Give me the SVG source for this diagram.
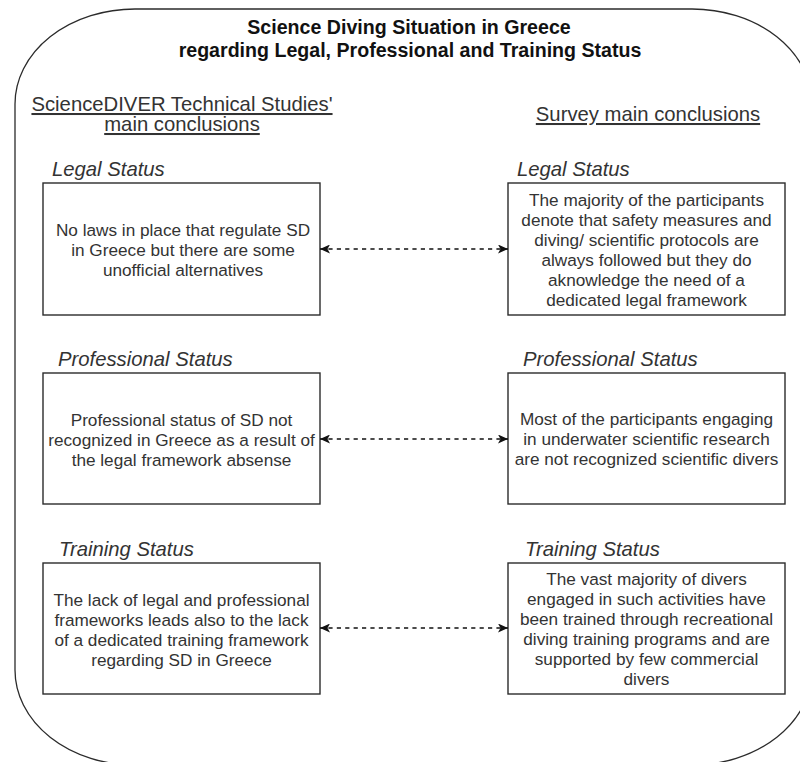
<svg xmlns="http://www.w3.org/2000/svg" width="800" height="762" viewBox="0 0 800 762">
  <style>
    .frame { fill: #ffffff; stroke: #2b2b2b; stroke-width: 1.3; }
    .box { fill: #ffffff; stroke: #2b2b2b; stroke-width: 1.4; }
    .title { font-family: "Liberation Sans", Arial, sans-serif; font-size: 19.6px; font-weight: bold; fill: #111111; text-anchor: middle; }
    .head { font-family: "Liberation Sans", Arial, sans-serif; font-size: 20.3px; fill: #333333; text-anchor: middle; text-decoration: underline; }
    .label { font-family: "Liberation Sans", Arial, sans-serif; font-size: 20.3px; font-style: italic; fill: #333333; }
    .body { font-family: "Liberation Sans", Arial, sans-serif; font-size: 17.2px; fill: #333333; text-anchor: middle; }
    .link { fill: none; stroke: #111111; stroke-width: 1.4; stroke-dasharray: 4.2 4.2; }
  </style>
  <defs>
    <marker id="arrowhead" viewBox="0 0 10 9" refX="10" refY="4.5" markerWidth="10" markerHeight="9" markerUnits="userSpaceOnUse" orient="auto-start-reverse">
      <path d="M0,0 L10,4.5 L0,9 L2.5,4.5 Z" fill="#111111"/>
    </marker>
  </defs>

  <!-- Outer rounded frame -->
  <g id="frame">
    <rect class="frame" x="15" y="9" width="797" height="756" rx="120" ry="95"/>
  </g>

  <!-- Title -->
  <g id="title">
    <text class="title" x="409" y="34">Science Diving Situation in Greece</text>
    <text class="title" x="410" y="57">regarding Legal, Professional and Training Status</text>
  </g>

  <!-- Column headings -->
  <g id="heading-left">
    <text class="head" x="182" y="111">ScienceDIVER Technical Studies'</text>
    <text class="head" x="182" y="131">main conclusions</text>
  </g>
  <g id="heading-right">
    <text class="head" x="648" y="121">Survey main conclusions</text>
  </g>

  <!-- Legal status row -->
  <g id="legal-left">
    <text class="label" x="52" y="176">Legal Status</text>
    <rect class="box" x="43" y="183" width="277" height="132"/>
    <text class="body" x="183" y="236">No laws in place that regulate SD</text>
    <text class="body" x="183" y="256">in Greece but there are some</text>
    <text class="body" x="183" y="276">unofficial alternatives</text>
  </g>
  <g id="legal-right">
    <text class="label" x="517" y="176">Legal Status</text>
    <rect class="box" x="508" y="183" width="277" height="132"/>
    <text class="body" x="646.5" y="206">The majority of the participants</text>
    <text class="body" x="646.5" y="226">denote that safety measures and</text>
    <text class="body" x="646.5" y="246">diving/ scientific protocols are</text>
    <text class="body" x="646.5" y="266">always followed but they do</text>
    <text class="body" x="646.5" y="286">aknowledge the need of a</text>
    <text class="body" x="646.5" y="306">dedicated legal framework</text>
  </g>

  <!-- Professional status row -->
  <g id="professional-left">
    <text class="label" x="58" y="366">Professional Status</text>
    <rect class="box" x="43" y="373" width="277" height="131"/>
    <text class="body" x="181.5" y="426">Professional status of SD not</text>
    <text class="body" x="181.5" y="446">recognized in Greece as a result of</text>
    <text class="body" x="181.5" y="466">the legal framework absense</text>
  </g>
  <g id="professional-right">
    <text class="label" x="523" y="366">Professional Status</text>
    <rect class="box" x="508" y="373" width="277" height="131"/>
    <text class="body" x="646.5" y="425">Most of the participants engaging</text>
    <text class="body" x="646.5" y="445">in underwater scientific research</text>
    <text class="body" x="646.5" y="465">are not recognized scientific divers</text>
  </g>

  <!-- Training status row -->
  <g id="training-left">
    <text class="label" x="59" y="556">Training Status</text>
    <rect class="box" x="43" y="563" width="277" height="131"/>
    <text class="body" x="181.5" y="606">The lack of legal and professional</text>
    <text class="body" x="181.5" y="626">frameworks leads also to the lack</text>
    <text class="body" x="181.5" y="646">of a dedicated training framework</text>
    <text class="body" x="181.5" y="666">regarding SD in Greece</text>
  </g>
  <g id="training-right">
    <text class="label" x="525" y="556">Training Status</text>
    <rect class="box" x="508" y="563" width="277" height="131"/>
    <text class="body" x="646.5" y="585">The vast majority of divers</text>
    <text class="body" x="646.5" y="605">engaged in such activities have</text>
    <text class="body" x="646.5" y="625">been trained through recreational</text>
    <text class="body" x="646.5" y="645">diving training programs and are</text>
    <text class="body" x="646.5" y="665">supported by few commercial</text>
    <text class="body" x="646.5" y="685">divers</text>
  </g>

  <!-- Dashed two-way connectors -->
  <g id="connectors">
    <line class="link" x1="320" y1="249" x2="508" y2="249" marker-start="url(#arrowhead)" marker-end="url(#arrowhead)"/>
    <line class="link" x1="320" y1="439" x2="508" y2="439" marker-start="url(#arrowhead)" marker-end="url(#arrowhead)"/>
    <line class="link" x1="320" y1="628" x2="508" y2="628" marker-start="url(#arrowhead)" marker-end="url(#arrowhead)"/>
  </g>
</svg>
